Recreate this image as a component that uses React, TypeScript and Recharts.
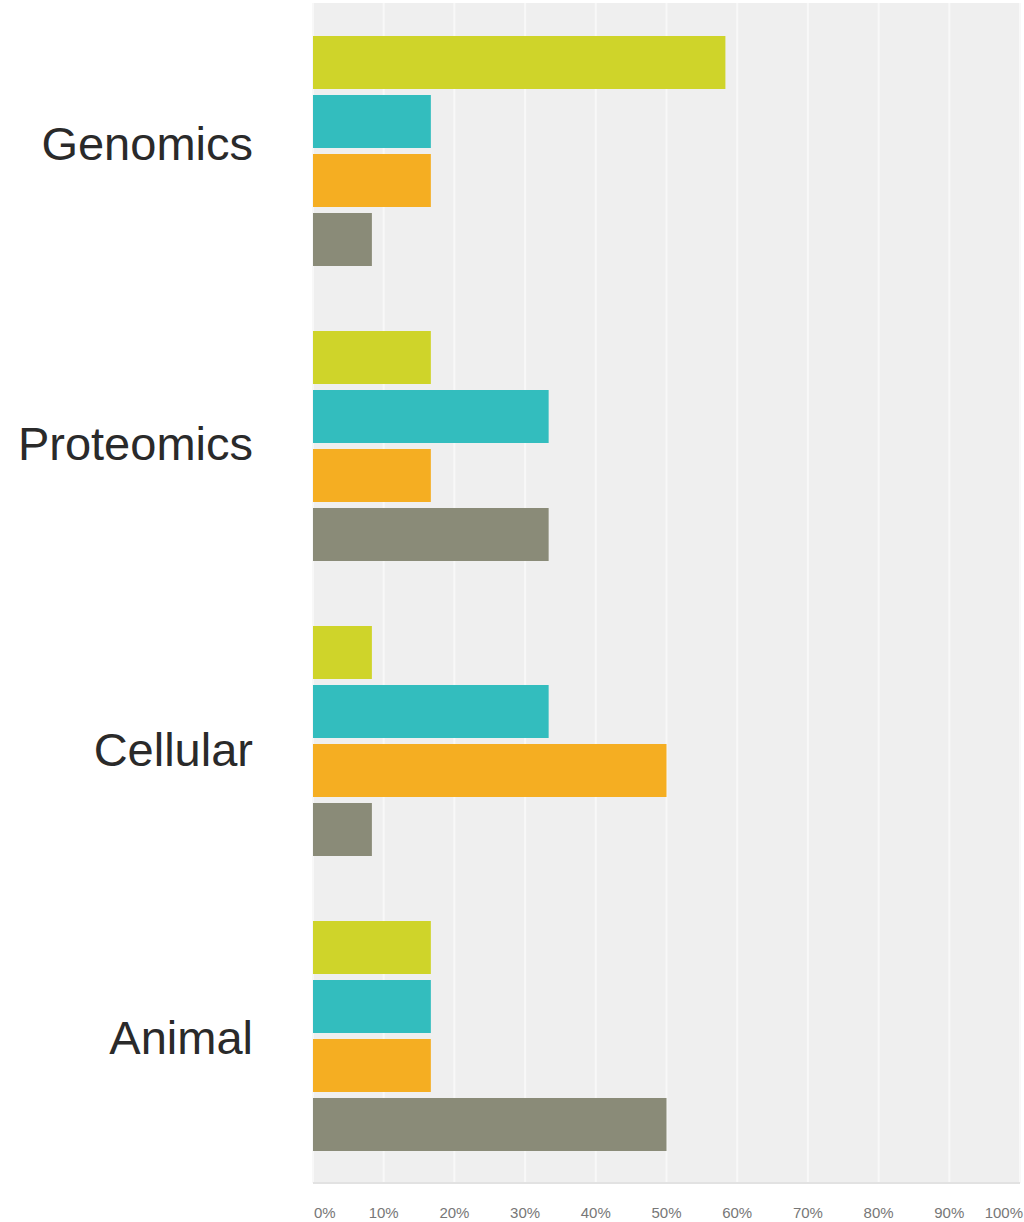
import * as React from "react"
import { BarChart, Bar, XAxis, YAxis, CartesianGrid } from "recharts"

const categories = ["Genomics", "Proteomics", "Cellular", "Animal"]
const answerA = [58.33, 16.67, 8.33, 16.67]
const answerB = [16.67, 33.33, 33.33, 16.67]
const answerC = [16.67, 16.67, 50, 16.67]
const answerD = [8.33, 33.33, 8.33, 50]
const pctTicks = [0, 10, 20, 30, 40, 50, 60, 70, 80, 90, 100]

const COLORS = ["#cfd42a", "#33bdbe", "#f5ae22", "#8a8b78"]
// small vertical nudges so the labels sit where they do in the original
const LABEL_SHIFT = [-7, -2, 9, 2]

const data = categories.map((name, i) => ({
  name,
  a: answerA[i],
  b: answerB[i],
  c: answerC[i],
  d: answerD[i],
}))

function CategoryTick(props: any) {
  const { y, payload, index } = props
  return (
    <text
      x={253}
      y={y + (LABEL_SHIFT[index] || 0)}
      textAnchor="end"
      dominantBaseline="central"
      fontSize={47}
      fontFamily="'Liberation Sans', Arial, sans-serif"
      fill="#2a2a2a"
    >
      {payload.value}
    </text>
  )
}

function PctTick(props: any) {
  const { x, payload } = props
  const v = payload.value
  let anchor: "start" | "middle" | "end" = "middle"
  let tx = x
  if (v === 0) {
    anchor = "start"
    tx = x + 1
  } else if (v === 100) {
    anchor = "end"
    tx = x + 3
  }
  return (
    <text
      x={tx}
      y={1212}
      textAnchor={anchor}
      dominantBaseline="central"
      fontSize={15}
      fontFamily="'Liberation Sans', Arial, sans-serif"
      fill="#777"
    >
      {v}%
    </text>
  )
}

export default function App() {
  return (
    <div style={{ position: "absolute", left: 0, top: 0, background: "#fff" }}>
      <BarChart
        width={1024}
        height={1222}
        data={data}
        layout="vertical"
        margin={{ top: 3, right: 4, bottom: 0, left: 0 }}
        barGap={6}
      >
        <CartesianGrid
          horizontal={false}
          fill="#efefef"
          stroke="#f8f8f8"
          strokeWidth={2}
        />
        <XAxis
          type="number"
          domain={[0, 100]}
          ticks={pctTicks}
          height={39}
          axisLine={{ stroke: "#e2e2e2", strokeWidth: 2 }}
          tickLine={false}
          tick={<PctTick />}
          interval={0}
        />
        <YAxis
          type="category"
          dataKey="name"
          width={313}
          axisLine={false}
          tickLine={false}
          tick={<CategoryTick />}
        />
        <Bar dataKey="a" fill={COLORS[0]} barSize={53} isAnimationActive={false} />
        <Bar dataKey="b" fill={COLORS[1]} barSize={53} isAnimationActive={false} />
        <Bar dataKey="c" fill={COLORS[2]} barSize={53} isAnimationActive={false} />
        <Bar dataKey="d" fill={COLORS[3]} barSize={53} isAnimationActive={false} />
      </BarChart>
    </div>
  )
}
